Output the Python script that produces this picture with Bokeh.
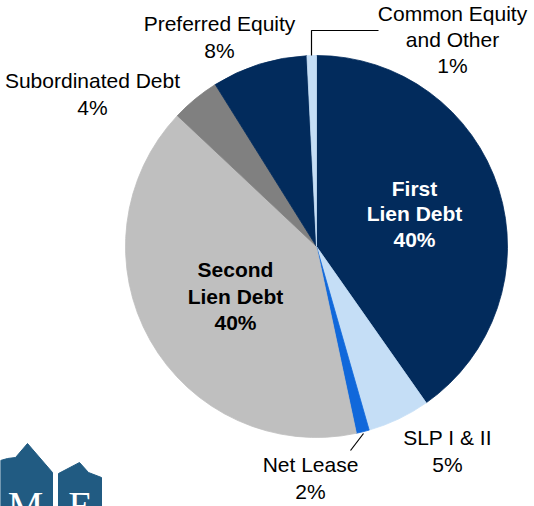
from bokeh.plotting import figure
from bokeh.models import Range1d, ColumnDataSource
from bokeh.embed import file_html
from bokeh.resources import INLINE
from bokeh.core.properties import value
import numpy as np

# ---------------- data ----------------
categories = ["First Lien Debt", "SLP I & II", "Net Lease", "Second Lien Debt",
              "Subordinated Debt", "Preferred Equity", "Common Equity and Other"]
shares = [40.3, 5.3, 1.1, 40.4, 4.1, 8.1, 0.8]
pct_labels = ["40%", "5%", "2%", "40%", "4%", "8%", "1%"]
name_lines = [["First", "Lien Debt"], ["SLP I & II"], ["Net Lease"], ["Second", "Lien Debt"],
              ["Subordinated Debt"], ["Preferred Equity"], ["Common Equity", "and Other"]]

# ---------------- styles / layout ----------------
colors = ["#022B5C", "#C5DEF6", "#1068DB", "#BFBFBF", "#808080", "#022B5C", "#C5DEF6"]
W, H = 534, 506  # screen size; screen y -> data y
CX, CY, R = 316, 246, 191
# label anchor: (x, [line y's in screen px], bold, color)
label_layout = [
    (414, [188, 213, 239], True, "white"),
    (447, [437, 464], False, "black"),
    (310, [464, 491], False, "black"),
    (235, [269, 296, 322], True, "black"),
    (92, [80, 107], False, "black"),
    (219, [23, 50], False, "black"),
    (452, [13, 39, 65], False, "black"),
]
leaders = {
    "Common Equity and Other": ([311, 311, 378], [55, 30, 30]),
    "Net Lease": ([363, 350], [433, 450]),
}

p = figure(width=W, height=H, output_backend="svg", toolbar_location=None,
           x_range=Range1d(0, W), y_range=Range1d(0, H),
           x_axis_type=None, y_axis_type=None, min_border=0)
p.grid.visible = False
p.outline_line_color = None
p.background_fill_color = "white"

# ---------------- pie ----------------
frac = np.array(shares) / np.sum(shares)
cum = np.concatenate([[0], np.cumsum(frac)])
start = np.pi / 2 - 2 * np.pi * cum[:-1]
end = np.pi / 2 - 2 * np.pi * cum[1:]
src = ColumnDataSource(dict(x=[CX] * len(shares), y=[H - CY] * len(shares),
                            start=start, end=end, color=colors, cat=categories))
p.wedge(x="x", y="y", radius=R, start_angle="start", end_angle="end", direction="clock",
        fill_color="color", line_color="color", line_width=0.8, source=src)

# ---------------- labels ----------------
for cat, lines, pct, (lx, ys, bold, tc) in zip(categories, name_lines, pct_labels, label_layout):
    texts = lines + [pct]
    p.text(x=[lx] * len(texts), y=[H - yy for yy in ys], text=texts,
           text_align="center", text_baseline="middle",
           text_font=value("Liberation Sans"), text_font_size="21px",
           text_font_style="bold" if bold else "normal", text_color=tc)
    if cat in leaders:
        xs, ysl = leaders[cat]
        p.line(xs, [H - v for v in ysl], line_color="black", line_width=1.2)

# ---------------- logo (partially visible, bottom-left) ----------------
logo_color = "#215B82"
b1x = [0, 7, 15, 27, 52, 52, 0]
b1y = [460, 458, 457, 443, 472, 510, 510]
b2x = [58, 79, 88, 101, 101, 58]
b2y = [473, 462, 472, 477, 510, 510]
p.patches([b1x, b2x], [[H - v for v in b1y], [H - v for v in b2y]],
          fill_color=logo_color, line_color=logo_color)
p.text(x=[25, 80], y=[H - 482, H - 482], text=["M", "E"], text_align="center",
       text_baseline="top", text_font=value("Liberation Serif"), text_font_size="40px",
       text_color="white")

open("out.html", "w").write(file_html(p, INLINE))
